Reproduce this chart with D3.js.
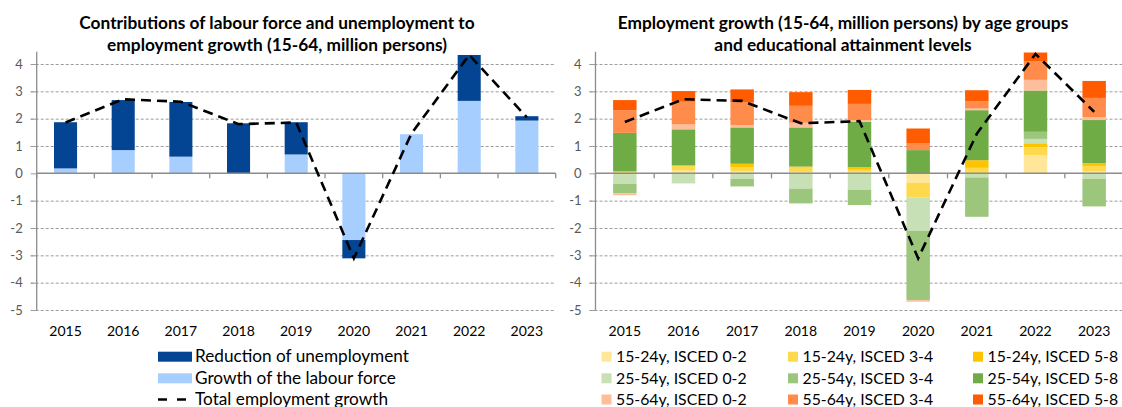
<!DOCTYPE html>
<html>
<head>
<meta charset="utf-8">
<script src="https://d3js.org/d3.v7.min.js"></script>
<style>
	body { margin: 0; background: #fff; }
	text { font-family: Lato, "Liberation Sans", sans-serif; }
</style>
</head>
<body>
<div id="chart"></div>
<script>
"use strict";

//********************************* DATA *********************************
var years = ["2015", "2016", "2017", "2018", "2019", "2020", "2021", "2022", "2023"];
var yTicks = [-5, -4, -3, -2, -1, 0, 1, 2, 3, 4];

//Left chart (million persons)
var labourForceGrowth = [0.18, 0.85, 0.61, 0.0, 0.69, -2.44, 1.43, 2.65, 1.93];
var unemploymentReduction = [1.69, 1.83, 2.0, 1.83, 1.18, -0.67, 0.0, 1.68, 0.16];
var totalGrowthLeft = [1.86, 2.71, 2.62, 1.8, 1.86, -3.11, 1.46, 4.33, 2.05];

//Right chart, age group x ISCED level (million persons)
var y1524_isced02 = [0.0, 0.1, 0.08, 0.05, 0.05, -0.34, 0.0, 0.66, 0.07];
var y1524_isced34 = [0.03, 0.17, 0.15, 0.16, 0.08, -0.54, 0.2, 0.29, 0.2];
var y1524_isced58 = [0.05, 0.02, 0.12, 0.04, 0.1, 0.0, 0.28, 0.15, 0.1];
var y2554_isced02 = [-0.39, -0.37, -0.2, -0.56, -0.6, -1.22, -0.15, 0.16, -0.2];
var y2554_isced34 = [-0.34, 0.0, -0.28, -0.54, -0.56, -2.54, -1.44, 0.26, -1.01];
var y2554_isced58 = [1.4, 1.32, 1.33, 1.43, 1.66, 0.85, 1.83, 1.51, 1.58];
var y5564_isced02 = [-0.07, 0.18, 0.08, 0.17, 0.06, -0.06, 0.06, 0.39, 0.1];
var y5564_isced34 = [0.82, 0.83, 0.83, 0.62, 0.59, 0.24, 0.27, 0.67, 0.71];
var y5564_isced58 = [0.38, 0.39, 0.48, 0.5, 0.51, 0.55, 0.4, 0.33, 0.62];
var totalGrowthRight = [1.88, 2.71, 2.65, 1.83, 1.91, -3.11, 1.45, 4.37, 2.25];

var leftSeries = [
	{ key: "lf", label: "Growth of the labour force", values: labourForceGrowth, color: "#A6CEFF" },
	{ key: "un", label: "Reduction of unemployment", values: unemploymentReduction, color: "#034592" }
];

var rightSeries = [
	{ key: "a", label: "15-24y, ISCED 0-2", values: y1524_isced02, color: "#FFE699" },
	{ key: "b", label: "15-24y, ISCED 3-4", values: y1524_isced34, color: "#FFD94D" },
	{ key: "c", label: "15-24y, ISCED 5-8", values: y1524_isced58, color: "#FFC400" },
	{ key: "d", label: "25-54y, ISCED 0-2", values: y2554_isced02, color: "#C7E0B6" },
	{ key: "e", label: "25-54y, ISCED 3-4", values: y2554_isced34, color: "#9DC67D" },
	{ key: "f", label: "25-54y, ISCED 5-8", values: y2554_isced58, color: "#6FAC46" },
	{ key: "g", label: "55-64y, ISCED 0-2", values: y5564_isced02, color: "#FFBE9B" },
	{ key: "h", label: "55-64y, ISCED 3-4", values: y5564_isced34, color: "#FF8C4B" },
	{ key: "i", label: "55-64y, ISCED 5-8", values: y5564_isced58, color: "#FF5B00" }
];

var svg = d3.select("#chart").append("svg")
	.attr("width", 1122)
	.attr("height", 407);

//********************************* PANEL FUNCTION *********************************
//Draws one stacked bar panel with its total line
function drawPanel(opt){
	var x = d3.scaleBand()
		.domain(years)
		.range([opt.left, opt.right])
		.paddingInner(0.6)
		.paddingOuter(0.3);
	var y = d3.scaleLinear()
		.domain([-5, 4.45])
		.range([310, 51.7]);

	var g = svg.append("g");

	//dashed gridlines (zero is the axis line)
	g.selectAll("line.grid")
		.data(yTicks.filter(function(d){ return d !== 0; }))
		.enter()
			.append("line")
			.attr("class", "grid")
			.attr("x1", opt.left - 6)
			.attr("x2", opt.right)
			.attr("y1", function(d){ return y(d) + 0.5; })
			.attr("y2", function(d){ return y(d) + 0.5; })
			.attr("stroke", "#9c9c9c")
			.attr("stroke-width", 1)
			.attr("stroke-dasharray", "3,2");

	//stacked bars
	var table = years.map(function(yr, i){
		var row = { year: yr };
		opt.series.forEach(function(s){ row[s.key] = s.values[i]; });
		return row;
	});
	var stack = d3.stack()
		.keys(opt.series.map(function(s){ return s.key; }))
		.offset(d3.stackOffsetDiverging);
	var layers = stack(table);

	g.selectAll("g.layer")
		.data(layers)
		.enter()
			.append("g")
			.attr("class", "layer")
			.attr("fill", function(d, i){ return opt.series[i].color; })
			.selectAll("rect")
			.data(function(d){ return d; })
			.enter()
				.append("rect")
				.attr("x", function(d){ return x(d.data.year); })
				.attr("width", x.bandwidth())
				.attr("y", function(d){ return y(Math.max(d[0], d[1])); })
				.attr("height", function(d){ return Math.abs(y(d[0]) - y(d[1])); });

	//y axis
	var yAxis = d3.axisLeft(y)
		.tickValues(yTicks)
		.tickFormat(String)
		.tickSize(6)
		.tickPadding(8);
	var ya = g.append("g")
		.attr("transform", "translate(" + opt.left + ",0)")
		.call(yAxis);
	ya.select(".domain").remove();
	ya.selectAll(".tick line").attr("stroke", "#9c9c9c");
	ya.selectAll(".tick text")
		.attr("fill", "#595959")
		.style("font-size", "13px");
	g.append("line")
		.attr("x1", opt.left).attr("x2", opt.left)
		.attr("y1", 51.7).attr("y2", y(-5))
		.attr("stroke", "#8c8c8c")
		.attr("stroke-width", 1.3);

	//x axis line at zero with ticks between categories
	g.append("line")
		.attr("x1", opt.left).attr("x2", opt.right)
		.attr("y1", y(0)).attr("y2", y(0))
		.attr("stroke", "#8c8c8c")
		.attr("stroke-width", 1.5);
	g.selectAll("line.xtick")
		.data(d3.range(years.length + 1))
		.enter()
			.append("line")
			.attr("class", "xtick")
			.attr("x1", function(i){ return opt.left + i * x.step(); })
			.attr("x2", function(i){ return opt.left + i * x.step(); })
			.attr("y1", y(0))
			.attr("y2", y(0) + 5)
			.attr("stroke", "#8c8c8c")
			.attr("stroke-width", 1.3);

	//year labels
	g.selectAll("text.year")
		.data(years)
		.enter()
			.append("text")
			.attr("class", "year")
			.attr("x", function(d){ return x(d) + x.bandwidth() / 2; })
			.attr("y", 335.5)
			.attr("text-anchor", "middle")
			.style("font-size", "14px")
			.attr("fill", "#000")
			.text(function(d){ return d; });

	//total employment growth line
	var line = d3.line()
		.x(function(d, i){ return x(years[i]) + x.bandwidth() / 2; })
		.y(function(d){ return y(d); });
	g.append("path")
		.datum(opt.total)
		.attr("d", line)
		.attr("fill", "none")
		.attr("stroke", "#000")
		.attr("stroke-width", 2.6)
		.attr("stroke-dasharray", "10,6");

	//title
	var t = g.append("text")
		.attr("x", opt.titleX)
		.attr("text-anchor", "middle")
		.style("font-size", "17.3px")
		.style("font-weight", "bold")
		.attr("fill", "#000");
	opt.title.forEach(function(s, i){
		t.append("tspan")
			.attr("x", opt.titleX)
			.attr("y", 29.3 + i * 21.4)
			.text(s);
	});
}

drawPanel({
	left: 36.7, right: 555.7, titleX: 277,
	series: leftSeries, total: totalGrowthLeft,
	title: ["Contributions of labour force and unemployment to", "employment growth (15-64, million persons)"]
});

drawPanel({
	left: 595.5, right: 1123.5, titleX: 843,
	series: rightSeries, total: totalGrowthRight,
	title: ["Employment growth (15-64, million persons) by age groups", "and educational attainment levels"]
});

//********************************* LEGENDS *********************************
var rowY = [351.7, 373.3, 394.5];

//left legend: wide keys because it holds a line series
var leftLegend = [leftSeries[1], leftSeries[0]];
leftLegend.forEach(function(s, i){
	svg.append("rect")
		.attr("x", 158).attr("y", rowY[i])
		.attr("width", 34).attr("height", 10)
		.attr("fill", s.color);
	svg.append("text")
		.attr("x", 195).attr("y", rowY[i] + 10.5)
		.style("font-size", "17.2px")
		.attr("fill", "#000")
		.text(s.label);
});
svg.append("line")
	.attr("x1", 158).attr("x2", 187)
	.attr("y1", rowY[2] + 5).attr("y2", rowY[2] + 5)
	.attr("stroke", "#000")
	.attr("stroke-width", 2.6)
	.attr("stroke-dasharray", "9,10");
svg.append("text")
	.attr("x", 195).attr("y", rowY[2] + 10)
	.style("font-size", "17.2px")
	.attr("fill", "#000")
	.text("Total employment growth");

//right legend: 3 columns, one row per age group
var colX = [601.5, 788, 973];
rightSeries.forEach(function(s, i){
	var col = i % 3, row = Math.floor(i / 3);
	svg.append("rect")
		.attr("x", colX[col]).attr("y", rowY[row])
		.attr("width", 10).attr("height", 10)
		.attr("fill", s.color);
	svg.append("text")
		.attr("x", colX[col] + 14.5).attr("y", rowY[row] + 10.5)
		.style("font-size", "15.8px")
		.attr("fill", "#000")
		.text(s.label);
});
</script>
</body>
</html>
